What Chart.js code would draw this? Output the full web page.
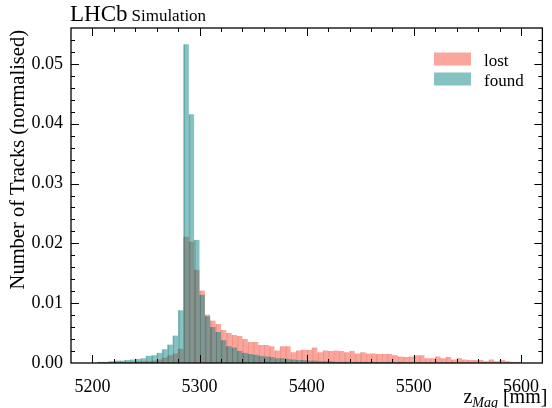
<!DOCTYPE html>
<html>
<head>
<meta charset="utf-8">
<script src="https://cdn.jsdelivr.net/npm/chart.js@4.4.1/dist/chart.umd.min.js"></script>
<style>
  html, body { margin: 0; padding: 0; background: #fff; }
  #wrap { width: 552px; height: 408px; }
</style>
</head>
<body>
<div id="wrap"><canvas id="c" width="552" height="408"></canvas></div>
<script>
// histogram bins: 5 mm wide, 5200 .. 5600
const binLow = 5200
const binWidth = 5

const lost = [
  0, 0.0001, 0.0001, 0.0001, 0.0002, 0.0002, 0.0002, 0.0002, 0.0003, 0.0003,
  0.0003, 0.0004, 0.0006, 0.0009, 0.0013, 0.0016, 0.0024, 0.0211, 0.0203, 0.0156,
  0.0121, 0.0081, 0.0071, 0.0065, 0.0055, 0.0050, 0.0047, 0.0045, 0.0040, 0.0035,
  0.0035, 0.0030, 0.0030, 0.0028, 0.0021, 0.0028, 0.0028, 0.0018, 0.0021, 0.0022,
  0.0022, 0.0026, 0.0018, 0.0021, 0.0020, 0.0021, 0.0020, 0.0018, 0.0020, 0.0016,
  0.0018, 0.0016, 0.0016, 0.0015, 0.0015, 0.0015, 0.0013, 0.0011, 0.0010, 0.0011,
  0.0013, 0.0013, 0.0008, 0.0008, 0.0011, 0.0008, 0.0010, 0.0006, 0.0008, 0.0006,
  0.0005, 0.0005, 0.0005, 0.0003, 0.0006, 0.0003, 0.0005, 0.0003, 0.0002, 0.0002
]

const found = [
  0, 0.0002, 0.0002, 0.0003, 0.0004, 0.0004, 0.0005, 0.0006, 0.0007, 0.0008,
  0.0012, 0.0013, 0.0017, 0.0023, 0.0031, 0.0046, 0.0088, 0.0533, 0.0416, 0.0206,
  0.0114, 0.0078, 0.0060, 0.0052, 0.0038, 0.0028, 0.0026, 0.0020, 0.0017, 0.0015,
  0.0014, 0.0012, 0.0011, 0.0010, 0.0008, 0.0008, 0.0007, 0.0006, 0.0005, 0.0005,
  0.0004, 0.0004, 0.0003, 0.0003, 0.0003, 0.0002, 0.0002, 0.0002, 0.0002, 0.0002,
  0.0002, 0.00015, 0.00015, 0.00015, 0.00015, 0.00015, 0.0001, 0.00015, 0.0001, 0.0001,
  0.0001, 0.0001, 0.0001, 0.0001, 0.0001, 0.0001, 0.00008, 0.00008, 0.00008, 0.00008,
  0.00006, 0.00006, 0.00006, 0.00005, 0.00005, 0.00005, 0.00004, 0.00004, 0.00004, 0.00003
]

const xTicks = [5200, 5300, 5400, 5500, 5600]
const yTicks = [0, 0.01, 0.02, 0.03, 0.04, 0.05]
const xRange = [5180, 5620]
const yRange = [0, 0.056]

const lostFill = 'rgba(250,128,114,0.7)'
const foundFill = 'rgba(0,128,128,0.48)'
const serif = "'Liberation Serif', 'DejaVu Serif', serif"

const centres = lost.map((_, i) => binLow + binWidth * (i + 0.5))
const toPoints = arr => arr.map((v, i) => ({ x: centres[i], y: v }))

// inside ticks on all four sides, frame, titles and legend (mplhep LHCb look)
const lhcbStyle = {
  id: 'lhcbStyle',
  afterDraw(chart) {
    const { ctx, chartArea: a, scales: { x, y } } = chart
    ctx.save()
    ctx.strokeStyle = '#000'
    ctx.lineWidth = 1.3
    ctx.strokeRect(a.left, a.top, a.right - a.left, a.bottom - a.top)

    ctx.lineWidth = 1
    ctx.beginPath()
    for (let v = xRange[0] + 20; v < xRange[1]; v += 20) {
      const px = Math.round(x.getPixelForValue(v)) + 0.5
      const len = xTicks.includes(v) ? 8 : 4
      ctx.moveTo(px, a.bottom); ctx.lineTo(px, a.bottom - len)
      ctx.moveTo(px, a.top); ctx.lineTo(px, a.top + len)
    }
    for (let i = 1; i * 0.002 < yRange[1]; i++) {
      const py = Math.round(y.getPixelForValue(i * 0.002)) + 0.5
      const len = i % 5 === 0 ? 8 : 4
      ctx.moveTo(a.left, py); ctx.lineTo(a.left + len, py)
      ctx.moveTo(a.right, py); ctx.lineTo(a.right - len, py)
    }
    ctx.stroke()

    ctx.fillStyle = '#000'
    ctx.textBaseline = 'alphabetic'
    ctx.textAlign = 'left'
    ctx.font = '23px ' + serif
    ctx.fillText('LHCb', a.left - 1, 21)
    const w = ctx.measureText('LHCb').width
    ctx.font = '17px ' + serif
    ctx.fillText('Simulation', a.left - 1 + w + 4, 21)

    // y title, aligned to the top of the axes
    ctx.save()
    ctx.translate(24, a.top + 2)
    ctx.rotate(-Math.PI / 2)
    ctx.textAlign = 'right'
    ctx.font = '20.5px ' + serif
    ctx.fillText('Number of Tracks (normalised)', 0, 0)
    ctx.restore()

    // x title, aligned to the right of the axes
    ctx.font = '20px ' + serif
    const wz = ctx.measureText('z').width
    const wmm = ctx.measureText(' [mm]').width
    ctx.font = 'italic 14px ' + serif
    const wMag = ctx.measureText('Mag').width
    const tx = a.right + 5 - (wz + wMag + wmm)
    ctx.font = '20px ' + serif
    ctx.fillText('z', tx, 403)
    ctx.font = 'italic 14px ' + serif
    ctx.fillText('Mag', tx + wz, 407)
    ctx.font = '20px ' + serif
    ctx.fillText(' [mm]', tx + wz + wMag, 403)

    // legend
    const names = chart.data.datasets.map(d => d.label)
    const fills = chart.data.datasets.map(d => d.backgroundColor)
    ctx.font = '17px ' + serif
    names.forEach((n, i) => {
      const by = 52.5 + i * 20
      ctx.fillStyle = fills[i]
      ctx.fillRect(434, by, 37, 13)
      ctx.fillStyle = '#000'
      ctx.fillText(n, 484, by + 13)
    })
    ctx.restore()
  }
}

new Chart(document.getElementById('c'), {
  type: 'bar',
  data: {
    datasets: [
      {
        label: 'lost',
        data: toPoints(lost),
        backgroundColor: lostFill,
        borderColor: 'rgba(235,80,70,0.55)',
        borderWidth: { left: 1, right: 0, top: 0, bottom: 0 },
        borderSkipped: false,
        order: 2
      },
      {
        label: 'found',
        data: toPoints(found),
        backgroundColor: foundFill,
        borderColor: 'rgba(0,100,100,0.45)',
        borderWidth: { left: 1, right: 0, top: 0, bottom: 0 },
        borderSkipped: false,
        order: 1
      }
    ]
  },
  options: {
    responsive: false,
    animation: false,
    grouped: false,
    barPercentage: 1,
    categoryPercentage: 1,
    layout: { padding: { top: 28, right: 1, left: 0, bottom: 0 } },
    plugins: {
      legend: { display: false },
      tooltip: { enabled: false }
    },
    scales: {
      x: {
        type: 'linear',
        offset: false,
        min: xRange[0],
        max: xRange[1],
        grid: { display: false, drawTicks: false },
        border: { display: false },
        ticks: {
          stepSize: 100,
          includeBounds: false,
          autoSkip: false,
          maxRotation: 0,
          padding: 13,
          color: '#000',
          font: { family: serif, size: 18 },
          callback: v => xTicks.includes(v) ? String(v) : ''
        },
        afterFit: s => { s.height = 45 }
      },
      y: {
        min: yRange[0],
        max: yRange[1],
        grid: { display: false, drawTicks: false },
        border: { display: false },
        ticks: {
          stepSize: 0.01,
          includeBounds: false,
          padding: 8,
          color: '#000',
          font: { family: serif, size: 18 },
          callback: v => yTicks.some(t => Math.abs(t - v) < 1e-9) ? v.toFixed(2) : ''
        },
        afterFit: s => { s.width = 71 }
      }
    }
  },
  plugins: [lhcbStyle]
})
</script>
</body>
</html>
